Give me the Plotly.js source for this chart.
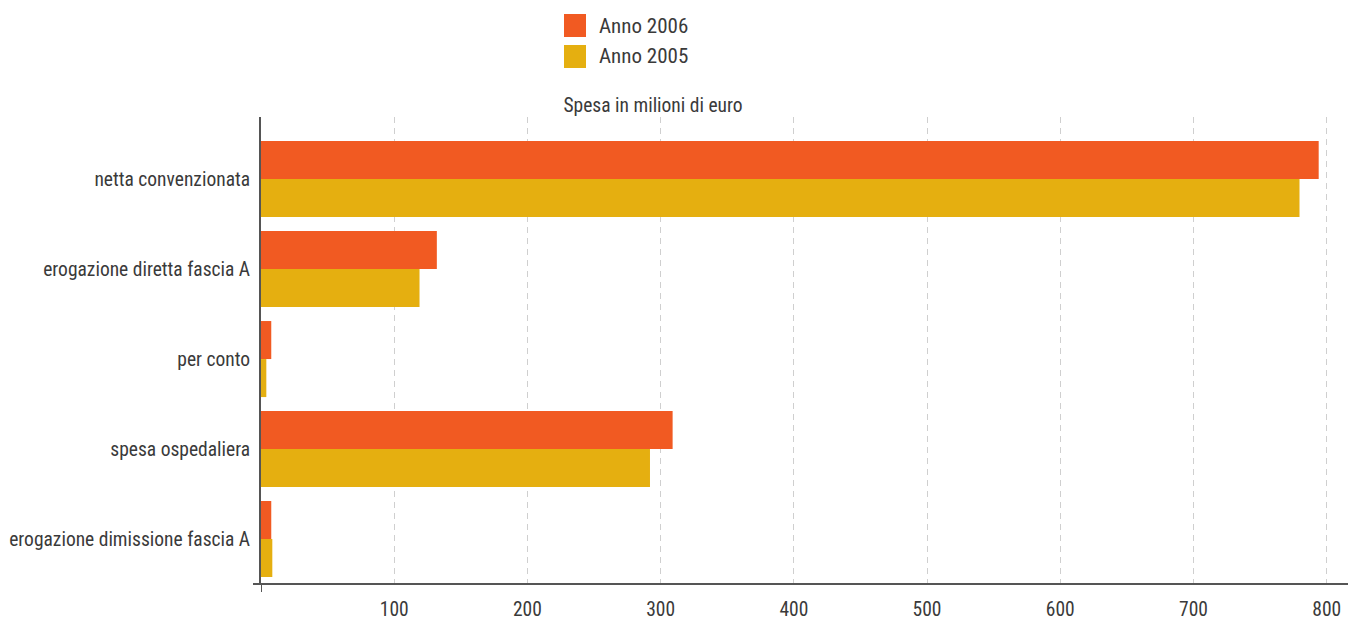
<!DOCTYPE html>
<html>
<head>
<meta charset="utf-8">
<script src="https://cdn.plot.ly/plotly-3.0.1.min.js"></script>
<style>html,body{margin:0;padding:0;background:#fff}#chart{width:1348px;height:621px}</style>
</head>
<body>
<div id="chart"></div>
<script>
const categories = ["netta convenzionata", "erogazione diretta fascia A", "per conto", "spesa ospedaliera", "erogazione dimissione fascia A"];
const seriesNames = ["Anno 2006", "Anno 2005"];
const values2006 = [794, 132, 7.7, 309, 7.7];
const values2005 = [779.6, 119, 4, 292, 8.5];
const xTicks = [100, 200, 300, 400, 500, 600, 700, 800];
const colors = ["#F15A22", "#E5AF10"];

const FONT = "'Liberation Sans Narrow', 'Roboto Condensed', 'Arial Narrow', Roboto, sans-serif";
const TXT = "#3a3a3a";

// plot area geometry in pixels
const L = 261, R = 0, T = 117, B = 37, W = 1348, H = 621;
const pw = W - L - R, ph = H - T - B;
const px = v => (v - L) / pw;
const py = v => (H - B - v) / ph;

const traces = [
  {type: "bar", orientation: "h", name: seriesNames[0], y: categories, x: values2006, marker: {color: colors[0]}},
  {type: "bar", orientation: "h", name: seriesNames[1], y: categories, x: values2005, marker: {color: colors[1]}}
];

// manual legend (larger square swatches like the reference)
const legendShapes = seriesNames.map((n, i) => ({
  type: "rect", xref: "paper", yref: "paper",
  x0: px(564), x1: px(586), y0: py(14 + i * 31), y1: py(37 + i * 31),
  fillcolor: colors[i], line: {width: 0}
}));
const legendText = seriesNames.map((n, i) => ({
  text: n, xref: "paper", yref: "paper", x: px(597), y: py(25.5 + i * 31),
  xanchor: "left", yanchor: "middle", showarrow: false,
  font: {family: FONT, size: 21, color: TXT}
}));

const layout = {
  width: W, height: H,
  margin: {l: L, r: R, t: T, b: B, autoexpand: false},
  paper_bgcolor: "#fff", plot_bgcolor: "#fff",
  font: {family: FONT, size: 19.5, color: TXT},
  barmode: "group", bargap: 0.155, bargroupgap: 0,
  title: {text: "Spesa in milioni di euro", xref: "container", x: 653/1348, xanchor: "center", yref: "container", y: 1 - 105/621, yanchor: "middle", font: {family: FONT, size: 19.5, color: TXT}},
  showlegend: false,
  xaxis: {range: [0, 816], tickvals: xTicks, ticktext: xTicks.map(String), showgrid: true, gridcolor: "#cfcfcf", griddash: "6px,5px", gridwidth: 1, zeroline: false, showline: false, ticks: "outside", ticklen: 8, tickcolor: "rgba(0,0,0,0)", automargin: false, fixedrange: true},
  yaxis: {type: "category", range: [4.5, -0.69], showgrid: false, zeroline: false, showline: true, linecolor: "#555", linewidth: 2, ticks: "", ticklabelstandoff: 5, automargin: false, fixedrange: true},
  shapes: [
    {type: "line", xref: "paper", yref: "paper", x0: -8 / pw, x1: 1, y0: 0, y1: 0, line: {color: "#555", width: 2}},
    {type: "line", xref: "x", yref: "paper", x0: 0, x1: 0, y0: 0, y1: -8 / ph, line: {color: "#555", width: 2}}
  ].concat(legendShapes),
  annotations: legendText
};

Plotly.newPlot("chart", traces, layout, {displayModeBar: false, staticPlot: true});
</script>
</body>
</html>
